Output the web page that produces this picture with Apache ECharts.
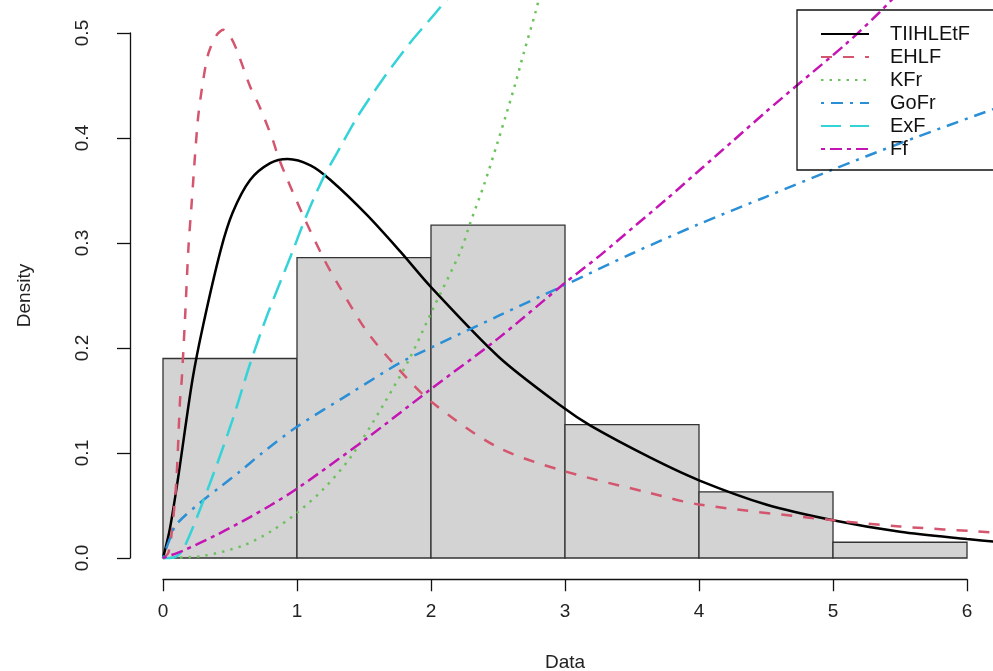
<!DOCTYPE html>
<html>
<head>
<meta charset="utf-8">
<script src="https://cdn.jsdelivr.net/npm/echarts@6/dist/echarts.min.js"></script>
<style>
  html, body { margin: 0; padding: 0; background: #fff; }
  #chart { width: 993px; height: 671px; }
</style>
</head>
<body>
<div id="chart"></div>
<script>
// histogram bins (density scale)
const binEdges = [0, 1, 2, 3, 4, 5, 6];
const binDensity = [0.19, 0.286, 0.317, 0.127, 0.063, 0.015];

const xTicks = [0, 1, 2, 3, 4, 5, 6];
const yTicks = [0.0, 0.1, 0.2, 0.3, 0.4, 0.5];

// fitted densities
const tiihletfX = [0, 0.05, 0.11, 0.22, 0.3, 0.43, 0.52, 0.65, 0.8, 0.93, 1.1, 1.25, 1.52, 1.77, 2.0, 2.51, 2.99, 3.19, 3.63, 4.0, 4.5, 5.0, 5.5, 6.0, 6.25];
const tiihletfY = [0, 0.027, 0.074, 0.17, 0.222, 0.293, 0.329, 0.36, 0.376, 0.38, 0.374, 0.36, 0.327, 0.292, 0.258, 0.191, 0.143, 0.126, 0.096, 0.074, 0.051, 0.036, 0.025, 0.018, 0.015];

const ehlfX = [0, 0.04, 0.07, 0.1, 0.127, 0.14, 0.165, 0.19, 0.21, 0.26, 0.3, 0.34, 0.4, 0.45, 0.5, 0.55, 0.65, 0.72, 0.82, 0.86, 0.92, 1.05, 1.2, 1.3, 1.52, 1.75, 2.01, 2.49, 2.96, 3.63, 4.0, 5.0, 5.5, 6.25];
const ehlfY = [0, 0.005, 0.03, 0.074, 0.15, 0.17, 0.23, 0.296, 0.331, 0.417, 0.455, 0.481, 0.498, 0.503, 0.497, 0.484, 0.449, 0.43, 0.398, 0.382, 0.363, 0.325, 0.285, 0.262, 0.216, 0.181, 0.148, 0.106, 0.084, 0.062, 0.051, 0.036, 0.03, 0.024];

const kfrX = [0, 0.3, 0.6, 0.8, 1.0, 1.2, 1.4, 1.64, 1.84, 2.01, 2.22, 2.29, 2.4, 2.49, 2.56, 2.63, 2.69, 2.78, 2.84];
const kfrY = [0, 0.002, 0.012, 0.025, 0.043, 0.066, 0.096, 0.145, 0.19, 0.236, 0.292, 0.318, 0.357, 0.393, 0.422, 0.452, 0.48, 0.52, 0.55];

const gofrX = [0, 0.05, 0.1, 0.28, 0.43, 0.56, 0.75, 1.0, 1.4, 1.77, 2.01, 2.51, 3.0, 3.5, 4.0, 4.5, 5.0, 5.5, 6.25];
const gofrY = [0, 0.018, 0.032, 0.053, 0.068, 0.081, 0.101, 0.125, 0.157, 0.186, 0.201, 0.231, 0.26, 0.29, 0.318, 0.344, 0.37, 0.395, 0.43];

const exfX = [0, 0.08, 0.15, 0.35, 0.52, 0.65, 0.78, 0.97, 1.07, 1.2, 1.3, 1.45, 1.64, 1.84, 2.04, 2.2];
const exfY = [0, 0.0005, 0.008, 0.071, 0.132, 0.185, 0.232, 0.293, 0.326, 0.363, 0.386, 0.42, 0.456, 0.49, 0.52, 0.545];

const ffX = [0, 0.15, 0.4, 0.65, 0.8, 1.0, 1.5, 1.99, 2.49, 3.0, 3.26, 3.51, 3.76, 4.01, 4.26, 4.5, 4.73, 5.1, 5.35, 5.5];
const ffY = [0, 0.007, 0.022, 0.039, 0.05, 0.066, 0.112, 0.16, 0.208, 0.262, 0.288, 0.315, 0.342, 0.37, 0.398, 0.425, 0.45, 0.49, 0.52, 0.54];

const curveNames = ['TIIHLEtF', 'EHLF', 'KFr', 'GoFr', 'ExF', 'Ff'];

const zip = (xs, ys) => xs.map((x, i) => [x, ys[i]]);
const font = 'Liberation Sans, Arial, sans-serif';

const curve = (name, xs, ys, color, dash) => ({
  name,
  type: 'line',
  xAxisIndex: 0,
  yAxisIndex: 0,
  data: zip(xs, ys),
  symbol: 'none',
  smooth: 0.3,
  lineStyle: { color, width: 2.5, type: dash },
  itemStyle: { color },
  z: 3
});

const chart = echarts.init(document.getElementById('chart'));
chart.setOption({
  animation: false,
  backgroundColor: '#fff',
  grid: [
    { left: 163, right: 0, top: 0, bottom: 91 },          // plot area
    { left: 130, top: 33, height: 525, width: 10 },       // y axis (R style, detached)
    { left: 163, width: 804, top: 579, height: 1 }        // x axis (R style, detached)
  ],
  xAxis: [
    { gridIndex: 0, type: 'value', min: 0, max: 6.194, show: false },
    { gridIndex: 1, type: 'value', show: false },
    {
      gridIndex: 2, type: 'value', min: xTicks[0], max: xTicks[xTicks.length - 1], interval: 1,
      position: 'bottom',
      axisLine: { lineStyle: { color: '#111', width: 1.3 } },
      axisTick: { length: 12, lineStyle: { color: '#111', width: 1.3 } },
      axisLabel: { fontFamily: font, fontSize: 19, color: '#222', margin: 23 },
      splitLine: { show: false },
      name: 'Data', nameLocation: 'middle', nameGap: 74,
      nameTextStyle: { fontFamily: font, fontSize: 19, color: '#222' }
    }
  ],
  yAxis: [
    { gridIndex: 0, type: 'value', min: -0.02095, max: 0.53143, show: false },
    {
      gridIndex: 1, type: 'value', min: yTicks[0], max: yTicks[yTicks.length - 1], interval: 0.1,
      axisLine: { show: true, lineStyle: { color: '#111', width: 1.3 } },
      axisTick: { show: true, length: 13, lineStyle: { color: '#111', width: 1.3 } },
      axisLabel: { fontFamily: font, fontSize: 19, color: '#222', rotate: 90, margin: 38,
        formatter: (v) => v.toFixed(1) },
      splitLine: { show: false },
      name: 'Density', nameLocation: 'middle', nameGap: 96,
      nameTextStyle: { fontFamily: font, fontSize: 19, color: '#222' }
    },
    { gridIndex: 2, type: 'value', show: false }
  ],
  legend: {
    data: curveNames,
    orient: 'vertical',
    left: 797,
    top: 10,
    padding: [14, 30, 11, 23],
    borderColor: '#111',
    borderWidth: 1.3,
    itemWidth: 48,
    itemHeight: 14,
    itemGap: 3,
    itemStyle: { opacity: 0 },
    textStyle: { fontFamily: font, fontSize: 20, color: '#111', lineHeight: 20, padding: [0, 0, 0, 16] }
  },
  series: [
    {
      name: 'hist',
      type: 'custom',
      xAxisIndex: 0,
      yAxisIndex: 0,
      data: binDensity.map((d, i) => [binEdges[i], binEdges[i + 1], d]),
      renderItem: (params, api) => {
        const p0 = api.coord([api.value(0), 0]);
        const p1 = api.coord([api.value(1), api.value(2)]);
        return {
          type: 'rect',
          shape: { x: p0[0], y: p1[1], width: p1[0] - p0[0], height: p0[1] - p1[1] },
          style: { fill: '#D3D3D3', stroke: '#333', lineWidth: 1.3 }
        };
      },
      z: 1
    },
    curve(curveNames[0], tiihletfX, tiihletfY, '#000000', 'solid'),
    curve(curveNames[1], ehlfX, ehlfY, '#D4566E', [11, 11]),
    curve(curveNames[2], kfrX, kfrY, '#6CC25C', [2.5, 6]),
    curve(curveNames[3], gofrX, gofrY, '#2A8FD6', [3, 7, 12, 7]),
    curve(curveNames[4], exfX, exfY, '#33D3D8', [20, 9]),
    curve(curveNames[5], ffX, ffY, '#C414B4', [4, 5, 12, 5])
  ]
});
</script>
</body>
</html>
